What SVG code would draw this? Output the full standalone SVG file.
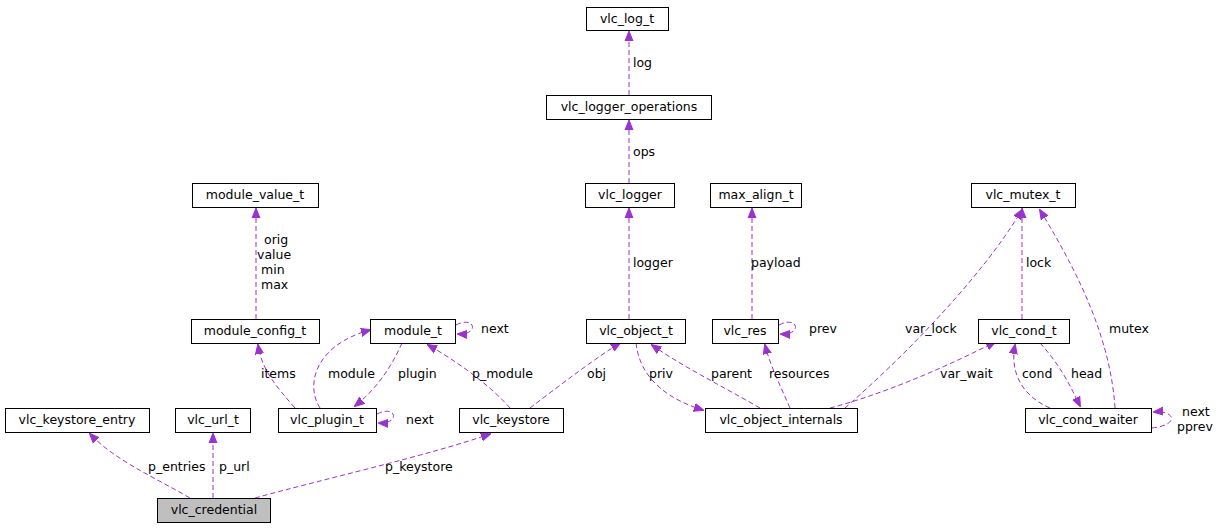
<svg xmlns="http://www.w3.org/2000/svg" width="1219" height="531" viewBox="0 0 1219 531">
<style>
.n rect{fill:#fff;stroke:#000;stroke-width:1}
text{font-family:"DejaVu Sans",sans-serif;font-size:12.5px;fill:#000}
.n text{text-anchor:middle}
.e path{fill:none;stroke:#9a32cd;stroke-dasharray:5,3;stroke-width:1}
</style>
<defs><marker id="a" markerWidth="10" markerHeight="10" refX="9" refY="5" orient="auto" markerUnits="userSpaceOnUse"><path d="M0,1 L10,5 L0,9 Z" fill="#9a32cd" stroke="#9a32cd"/></marker></defs>
<rect width="1219" height="531" fill="#fff"/>
<g class="e" marker-end="url(#a)">
<path d="M629,95 V32" marker-end="url(#a)"/>
<path d="M629,183 V121" marker-end="url(#a)"/>
<path d="M629,319 V209" marker-end="url(#a)"/>
<path d="M752,319 V209" marker-end="url(#a)"/>
<path d="M256,319 V209" marker-end="url(#a)"/>
<path d="M456,325 C475,315 480,335 458,334" marker-end="url(#a)"/>
<path d="M779,325 C798,315 803,335 781,334" marker-end="url(#a)"/>
<path d="M377,414 C396,404 401,424 379,423" marker-end="url(#a)"/>
<path d="M295,408 C275,385 262,370 258,345" marker-end="url(#a)"/>
<path d="M320,408 C305,385 315,345 370,330" marker-end="url(#a)"/>
<path d="M402,343 C390,370 375,390 355,406" marker-end="url(#a)"/>
<path d="M510,408 C490,385 455,360 428,345" marker-end="url(#a)"/>
<path d="M530,408 C560,385 600,355 620,343" marker-end="url(#a)"/>
<path d="M636,343 C640,380 670,400 703,410" marker-end="url(#a)"/>
<path d="M760,408 C720,385 680,365 652,345" marker-end="url(#a)"/>
<path d="M790,408 C780,385 770,365 765,345" marker-end="url(#a)"/>
<path d="M845,408 C900,360 980,280 1022,210" marker-end="url(#a)"/>
<path d="M830,408 C880,395 940,370 995,342" marker-end="url(#a)"/>
<path d="M1022,319 V209" marker-end="url(#a)"/>
<path d="M1050,408 C1020,395 1010,370 1015,345" marker-end="url(#a)"/>
<path d="M1040,343 C1060,365 1070,385 1080,406" marker-end="url(#a)"/>
<path d="M1115,408 C1110,330 1070,260 1040,210" marker-end="url(#a)"/>
<path d="M1152,428 C1180,425 1175,410 1154,412" marker-end="url(#a)"/>
<path d="M190,498 C150,475 115,460 90,434" marker-end="url(#a)"/>
<path d="M213,498 V434" marker-end="url(#a)"/>
<path d="M255,498 C320,480 430,455 490,434" marker-end="url(#a)"/>
</g>
<g>
<text x="633" y="67">log</text>
<text x="633" y="156">ops</text>
<text x="633" y="267">logger</text>
<text x="751" y="267">payload</text>
<text x="264" y="244">orig</text>
<text x="257" y="259">value</text>
<text x="261" y="274">min</text>
<text x="261" y="289">max</text>
<text x="481" y="333">next</text>
<text x="809" y="333">prev</text>
<text x="406" y="424">next</text>
<text x="261" y="378">items</text>
<text x="328" y="378">module</text>
<text x="398" y="378">plugin</text>
<text x="472" y="378">p_module</text>
<text x="587" y="378">obj</text>
<text x="649" y="378">priv</text>
<text x="711" y="378">parent</text>
<text x="769" y="378">resources</text>
<text x="905" y="333">var_lock</text>
<text x="940" y="378">var_wait</text>
<text x="1026" y="267">lock</text>
<text x="1022" y="378">cond</text>
<text x="1071" y="378">head</text>
<text x="1109" y="333">mutex</text>
<text x="1182" y="416">next</text>
<text x="1177" y="431">pprev</text>
<text x="148" y="471">p_entries</text>
<text x="219" y="471">p_url</text>
<text x="385" y="471">p_keystore</text>
</g>
<g class="n" id="vlc_log_t"><rect x="586.5" y="7.5" width="82" height="23"/><text x="627" y="23">vlc_log_t</text></g>
<g class="n" id="vlc_logger_operations"><rect x="546.5" y="95.5" width="165" height="24"/><text x="629" y="111">vlc_logger_operations</text></g>
<g class="n" id="vlc_logger"><rect x="585.5" y="183.5" width="89" height="24"/><text x="630" y="199">vlc_logger</text></g>
<g class="n" id="max_align_t"><rect x="710.5" y="183.5" width="91" height="24"/><text x="756" y="199">max_align_t</text></g>
<g class="n" id="vlc_mutex_t"><rect x="971.5" y="183.5" width="104" height="24"/><text x="1023" y="199">vlc_mutex_t</text></g>
<g class="n" id="module_value_t"><rect x="192.5" y="183.5" width="126" height="24"/><text x="255" y="199">module_value_t</text></g>
<g class="n" id="module_config_t"><rect x="191.5" y="319.5" width="128" height="24"/><text x="255" y="335">module_config_t</text></g>
<g class="n" id="module_t"><rect x="370.5" y="319.5" width="85" height="24"/><text x="413" y="335">module_t</text></g>
<g class="n" id="vlc_object_t"><rect x="586.5" y="319.5" width="99" height="24"/><text x="636" y="335">vlc_object_t</text></g>
<g class="n" id="vlc_res"><rect x="712.5" y="319.5" width="66" height="24"/><text x="745" y="335">vlc_res</text></g>
<g class="n" id="vlc_cond_t"><rect x="978.5" y="319.5" width="91" height="24"/><text x="1024" y="335">vlc_cond_t</text></g>
<g class="n" id="vlc_keystore_entry"><rect x="5.5" y="408.5" width="144" height="24"/><text x="77" y="424">vlc_keystore_entry</text></g>
<g class="n" id="vlc_url_t"><rect x="175.5" y="408.5" width="75" height="24"/><text x="213" y="424">vlc_url_t</text></g>
<g class="n" id="vlc_plugin_t"><rect x="278.5" y="408.5" width="98" height="24"/><text x="327" y="424">vlc_plugin_t</text></g>
<g class="n" id="vlc_keystore"><rect x="459.5" y="408.5" width="104" height="24"/><text x="511" y="424">vlc_keystore</text></g>
<g class="n" id="vlc_object_internals"><rect x="705.5" y="408.5" width="152" height="24"/><text x="781" y="424">vlc_object_internals</text></g>
<g class="n" id="vlc_cond_waiter"><rect x="1025.5" y="408.5" width="126" height="24"/><text x="1088" y="424">vlc_cond_waiter</text></g>
<g class="n" id="vlc_credential"><rect x="157.5" y="498.5" width="113" height="24" style="fill:#bfbfbf"/><text x="214" y="514">vlc_credential</text></g>
</svg>
